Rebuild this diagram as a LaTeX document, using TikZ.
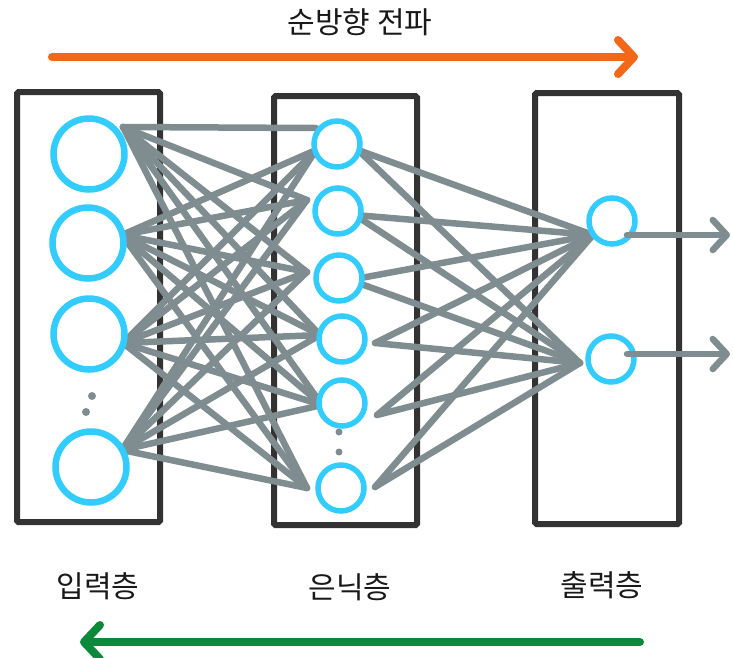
\documentclass[tikz,border=0pt]{standalone}
\usepackage{fontspec}
\setmainfont{Noto Sans CJK KR}
\usetikzlibrary{arrows.meta}
\definecolor{nodecyan}{RGB}{51,204,255}
\definecolor{wiregray}{RGB}{127,141,145}
\definecolor{framegray}{RGB}{51,51,51}
\definecolor{fwdorange}{RGB}{242,104,24}
\definecolor{backgreen}{RGB}{12,138,60}
\tikzset{
  layerbox/.style={draw=framegray, line width=6pt, rounded corners=1.5pt},
  neuronbig/.style={circle, draw=nodecyan, fill=white, line width=6.5pt, inner sep=0pt, minimum size=71pt},
  neuron/.style={circle, draw=nodecyan, fill=white, line width=5.5pt, inner sep=0pt, minimum size=46pt},
  wire/.style={draw=wiregray, line width=6.5pt, line cap=round},
  vdot/.style={circle, fill=wiregray, inner sep=0pt, minimum size=8pt},
  vdotsmall/.style={circle, fill=wiregray, inner sep=0pt, minimum size=7pt},
  outarrow/.style={wire, -{Straight Barb[length=14pt, width=30pt, round]}},
  flowarrow/.style={line width=8pt, line cap=round},
  layerlabel/.style={font=\fontsize{30pt}{33pt}\selectfont, text=black!90, inner sep=0pt},
}
\begin{document}
\begin{tikzpicture}[x=1pt, y=-1pt]
\useasboundingbox (0,0) rectangle (733,657);

% layer frames
\draw[layerbox] (17,92) rectangle (160,522);
\draw[layerbox] (274,96) rectangle (417,525);
\draw[layerbox] (535,93) rectangle (679,524);

% connection end points
\coordinate (i1r) at (123,127);
\coordinate (i2r) at (122,235);
\coordinate (i3r) at (123,343);
\coordinate (i4r) at (122,450);

\coordinate (h1t) at (316,128);
\coordinate (h1l) at (316,150);
\coordinate (h2l) at (307,200);
\coordinate (h3l) at (307,272);
\coordinate (h4l) at (320,335);
\coordinate (h5l) at (322,405);
\coordinate (h6l) at (307,488);

\coordinate (h1r) at (358,150);
\coordinate (h2r) at (355,215);
\coordinate (h3r) at (350,280);
\coordinate (h4r) at (375,343);
\coordinate (h5r) at (377,415);
\coordinate (h6r) at (375,487);

\coordinate (o1l) at (593,235);
\coordinate (o2l) at (580,363);

% input -> hidden
\draw[wire] (i1r) -- (h1t);
\foreach \i in {2,3,4} \draw[wire] (i\i r) -- (h1l);
\foreach \i in {1,2,3,4}
  \foreach \j in {2,3,4,5,6}
    \draw[wire] (i\i r) -- (h\j l);

% hidden -> output
\foreach \j in {1,2,3,4,5,6}
  \foreach \k in {1,2}
    \draw[wire] (h\j r) -- (o\k l);

% input layer
\node[neuronbig] (i1) at (89,154) {};
\node[neuronbig] (i2) at (88,243) {};
\node[neuronbig] (i3) at (89,334) {};
\node[neuronbig] (i4) at (91,467) {};
\node[vdot] (id1) at (92,396) {};
\node[vdot] (id2) at (86,412) {};

% hidden layer
\node[neuron] (h1) at (337,144) {};
\node[neuron] (h2) at (338,211) {};
\node[neuron] (h3) at (339,278) {};
\node[neuron] (h4) at (342,339) {};
\node[neuron] (h5) at (342,403) {};
\node[neuron] (h6) at (341,488) {};
\node[vdotsmall] (hd1) at (339,432) {};
\node[vdotsmall] (hd2) at (339,452) {};

% output layer
\node[neuron] (o1) at (612,221) {};
\node[neuron] (o2) at (611,359) {};

% outputs
\coordinate (o1s) at (627,235);
\coordinate (o2s) at (627,354);
\coordinate (o1e) at (730,235);
\coordinate (o2e) at (730,354);
\draw[outarrow] (o1s) -- (o1e);
\draw[outarrow] (o2s) -- (o2e);

% propagation directions
\node[layerlabel] (fwd) at (360,22) {순방향 전파};
\coordinate (fwdS) at (52,57);
\coordinate (fwdE) at (638,57);
\draw[flowarrow, draw=fwdorange, -{Straight Barb[length=16pt, width=34pt, round]}] (fwdS) -- (fwdE);

\node[layerlabel] (lin) at (98,586) {입력층};
\node[layerlabel] (lhid) at (350,587) {은닉층};
\node[layerlabel] (lout) at (602,585) {출력층};

\coordinate (bwdS) at (640,642);
\coordinate (bwdE) at (80,642);
\draw[flowarrow, draw=backgreen, -{Straight Barb[length=16pt, width=34pt, round]}] (bwdS) -- (bwdE);
\end{tikzpicture}
\end{document}
